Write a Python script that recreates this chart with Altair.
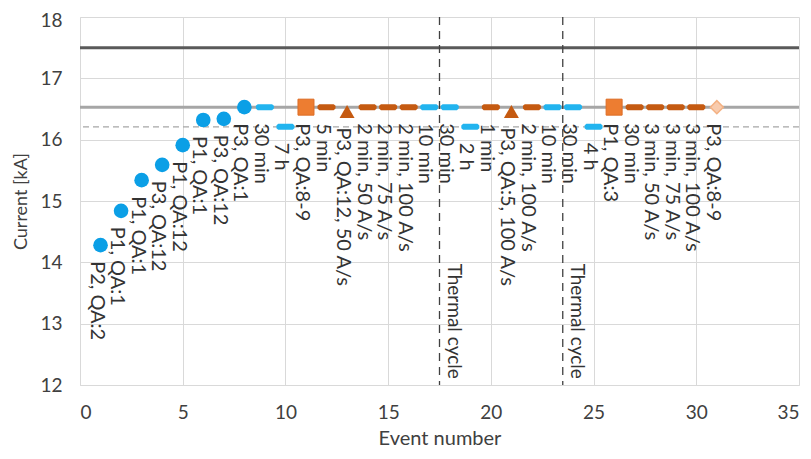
import altair as alt
import pandas as pd

# ---- data ----
events = list(range(1, 32))
currents = [14.28, 14.84, 15.34, 15.59, 15.91, 16.32, 16.34, 16.53,
            16.53, 16.21, 16.53, 16.53, 16.46, 16.53, 16.53, 16.53,
            16.53, 16.53, 16.21, 16.53, 16.46, 16.53, 16.53, 16.53,
            16.21, 16.53, 16.53, 16.53, 16.53, 16.53, 16.53]
markers = ["circle"] * 8 + [
    "dash_blue", "dash_blue", "square", "dash_orange", "triangle",
    "dash_orange", "dash_orange", "dash_orange", "dash_blue", "dash_blue",
    "dash_blue", "dash_orange", "triangle", "dash_orange", "dash_blue",
    "dash_blue", "dash_blue", "square", "dash_orange", "dash_orange",
    "dash_orange", "dash_orange", "diamond"]
labels = ["P2, QA:2", "P1, QA:1", "P1, QA:1", "P3, QA:12", "P1, QA:12",
          "P1, QA:1", "P3, QA:12", "P3, QA:1", "30 min", "7 h", "P3, QA:8-9",
          "5 min", "P3, QA:12, 50 A/s", "2 min, 50 A/s", "2 min, 75 A/s",
          "2 min, 100 A/s", "10 min", "30 min", "2 h", "1 min",
          "P3, QA:5, 100 A/s", "2 min, 100 A/s", "10 min", "30 min", "4 h",
          "P1, QA:3", "30 min", "3 min, 50 A/s", "3 min, 75 A/s",
          "3 min, 100 A/s", "P3, QA:8-9"]

h_levels = [17.5, 16.53]          # solid reference lines
h_dashed = [16.21]                # dashed reference line
thermal_x = [17.5, 23.5]          # thermal cycles
thermal_text = ["Thermal cycle", "Thermal cycle"]

df = pd.DataFrame({"event": events, "current": currents,
                   "marker": markers, "label": labels})

FONT = "Lato"
xs = alt.Scale(domain=[0, 35], nice=False, zero=False)
ys = alt.Scale(domain=[12, 18], nice=False, zero=False)

X = alt.X("event:Q", scale=xs,
          axis=alt.Axis(title="Event number", values=list(range(0, 36, 5)),
                        format="d", grid=True, ticks=False, labelPadding=18,
                        titlePadding=6, titleFontSize=20))
Y = alt.Y("current:Q", scale=ys,
          axis=alt.Axis(title="Current [kA]", values=list(range(12, 19)),
                        format="d", grid=True, ticks=False, labelPadding=18,
                        titlePadding=9, titleFontSize=18,
                        labelOffset=alt.condition(alt.datum.value == 18,
                                                  alt.value(3), alt.value(0))))

base = alt.Chart(df)

axes_layer = base.mark_point(opacity=0).encode(x=X, y=Y)

line_dark = alt.Chart(pd.DataFrame({"y": [h_levels[0]]})).mark_rule(
    color="#5a5a5a", strokeWidth=3).encode(y=alt.Y("y:Q", scale=ys))
line_light = alt.Chart(pd.DataFrame({"y": [h_levels[1]]})).mark_rule(
    color="#a6a6a6", strokeWidth=3).encode(y=alt.Y("y:Q", scale=ys))
line_dash = alt.Chart(pd.DataFrame({"y": h_dashed})).mark_rule(
    color="#a6a6a6", strokeWidth=1.2, strokeDash=[6, 4]).encode(
    y=alt.Y("y:Q", scale=ys))

tdf = pd.DataFrame({"x": thermal_x, "t": thermal_text, "ybot": [12.1, 12.1]})
vlines = alt.Chart(tdf).mark_rule(
    color="#404040", strokeWidth=1.3, strokeDash=[8, 6]).encode(
    x=alt.X("x:Q", scale=xs))
vtext = alt.Chart(tdf).mark_text(
    angle=90, align="right", baseline="middle", dy=-14, font=FONT,
    fontSize=19, color="#333333").encode(
    x=alt.X("x:Q", scale=xs), y=alt.Y("ybot:Q", scale=ys), text="t:N")

DASH = "M-0.8,-0.33L0.8,-0.33L1,-0.15L1,0.15L0.8,0.33L-0.8,0.33L-1,0.15L-1,-0.15Z"


def pts(kind, **kw):
    return base.transform_filter(alt.datum.marker == kind).mark_point(
        filled=True, opacity=1, **kw).encode(
        x=alt.X("event:Q", scale=xs), y=alt.Y("current:Q", scale=ys))


circles = pts("circle", shape="circle", size=214, color="#0b9fe6")
dash_b = pts("dash_blue", shape=DASH, size=324, color="#22b4ef")
squares = pts("square", shape="square", size=256, color="#ed7d31",
              stroke="#dd6d25", strokeWidth=1)
dash_o = pts("dash_orange", shape=DASH, size=324, color="#c55a11")
tris = pts("triangle", shape="triangle-up", size=225, color="#c55a11")
diam = pts("diamond", shape="diamond", size=170, fill="#f8cbad",
           stroke="#f4b183", strokeWidth=1.5)

text_layer = base.mark_text(
    angle=90, align="left", baseline="middle", dx=16, dy=4, font=FONT,
    fontSize=20, color="#333333").encode(
    x=alt.X("event:Q", scale=xs), y=alt.Y("current:Q", scale=ys),
    text="label:N")

chart = alt.layer(
    axes_layer, line_dash, line_light, line_dark, vlines, vtext,
    dash_b, dash_o, tris, squares, diam, circles, text_layer
).properties(
    width=719, height=368,
    autosize=alt.AutoSizeParams(type="none"),
    padding={"left": 72, "top": 9, "right": 4, "bottom": 66},
).configure_view(stroke=None).configure_axis(
    gridColor="#d9d9d9", gridWidth=1, domainColor="#d9d9d9",
    labelFont=FONT, titleFont=FONT, labelFontSize=19,
    labelColor="#404040", titleColor="#404040", titleFontWeight="normal",
)

chart.save("out.html", embed_options={"renderer": "svg", "actions": False})
